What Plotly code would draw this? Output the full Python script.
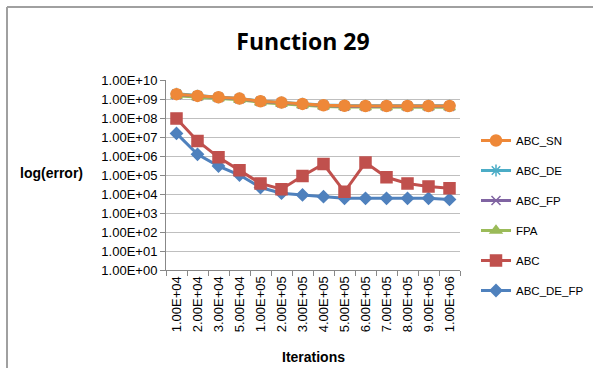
import plotly.graph_objects as go

iterations = ["1.00E+04", "2.00E+04", "3.00E+04", "5.00E+04", "1.00E+05", "2.00E+05", "3.00E+05",
              "4.00E+05", "5.00E+05", "6.00E+05", "7.00E+05", "8.00E+05", "9.00E+05", "1.00E+06"]

abc_sn = [1.8e9, 1.45e9, 1.23e9, 1.05e9, 7.6e8, 6.5e8, 5.5e8, 4.7e8, 4.4e8, 4.3e8, 4.3e8, 4.3e8, 4.3e8, 4.3e8]
abc_de = [1.9e9, 1.5e9, 1.25e9, 1.07e9, 7.8e8, 6.6e8, 5.6e8, 4.8e8, 4.5e8, 4.4e8, 4.4e8, 4.4e8, 4.4e8, 4.4e8]
abc_fp = [1.7e9, 1.4e9, 1.2e9, 1.02e9, 7.4e8, 6.3e8, 5.3e8, 4.5e8, 4.2e8, 4.1e8, 4.1e8, 4.1e8, 4.1e8, 4.1e8]
fpa = [1.5e9, 1.25e9, 1.08e9, 9.2e8, 6.6e8, 5.6e8, 4.7e8, 4.0e8, 3.8e8, 3.7e8, 3.7e8, 3.7e8, 3.7e8, 3.7e8]
abc = [9.5e7, 6.2e6, 8.5e5, 1.8e5, 3.6e4, 1.8e4, 8.9e4, 3.8e5, 1.3e4, 4.5e5, 7.6e4, 3.6e4, 2.5e4, 2.0e4]
abc_de_fp = [1.55e7, 1.23e6, 2.95e5, 1.0e5, 2.2e4, 1.1e4, 8.9e3, 7.2e3, 5.9e3, 5.9e3, 5.9e3, 5.9e3, 5.9e3, 5.2e3]

series = [
    ("ABC_DE_FP", abc_de_fp, "#4F81BD", "diamond", 9, 6),
    ("ABC", abc, "#C0504D", "square", 11, 5),
    ("FPA", fpa, "#9BBB59", "triangle-up", 10, 4),
    ("ABC_FP", abc_fp, "#8064A2", "x-thin-open", 9, 3),
    ("ABC_DE", abc_de, "#4BACC6", "asterisk-open", 10, 2),
    ("ABC_SN", abc_sn, "#EE8838", "circle", 11, 1),
]

fig = go.Figure()
for name, vals, color, sym, size, rank in series:
    fig.add_trace(go.Scatter(
        x=iterations, y=vals, name=name, mode="lines+markers",
        line=dict(color=color, width=3),
        marker=dict(symbol=sym, size=size, color=color, line=dict(color=color, width=1.5)),
        legendrank=rank, legendgroup=name,
    ))

ytickvals = [10 ** k for k in range(0, 11)]
yticktext = ["1.00E+%02d" % k for k in range(0, 11)]

fig.update_layout(
    width=593, height=368,
    margin=dict(l=166, r=133, t=80, b=98, autoexpand=False),
    paper_bgcolor="white", plot_bgcolor="white",
    font=dict(family="Liberation Sans, Arial, sans-serif", size=13, color="black"),
    title=dict(text="<b>Function 29</b>", x=0.511, xanchor="center", y=0.885, yanchor="middle",
               font=dict(size=23, family="Open Sans, Liberation Sans, sans-serif", color="black")),
    showlegend=True,
    legend=dict(xref="container", yref="container", x=476 / 593, y=1 - 126 / 368,
                xanchor="left", yanchor="top", traceorder="grouped",
                tracegroupgap=11, font=dict(size=11.5), itemwidth=30, bgcolor="rgba(0,0,0,0)"),
    xaxis=dict(type="category", range=[-0.5, len(iterations) - 0.5], tickangle=-90, ticks="outside",
               tickson="boundaries", ticklen=5,
               tickcolor="#888", showline=True, linecolor="#888", showgrid=False,
               tickfont=dict(size=13), automargin=False),
    yaxis=dict(type="log", range=[0, 10], tickvals=ytickvals, ticktext=yticktext,
               ticks="outside", ticklen=5, tickcolor="#888", showline=True, linecolor="#888",
               showgrid=True, gridcolor="#BFBFBF", gridwidth=1, tickfont=dict(size=13),
               zeroline=False, automargin=False),
    shapes=[
        dict(type="line", xref="paper", yref="paper", x0=(7 - 166) / 294, x1=(600 - 166) / 294,
             y0=1 + 73 / 190, y1=1 + 73 / 190, line=dict(color="#A0A0A0", width=2)),
        dict(type="line", xref="paper", yref="paper", x0=(7 - 166) / 294, x1=(7 - 166) / 294,
             y0=1 + 73 / 190, y1=-110 / 190, line=dict(color="#A0A0A0", width=2)),
    ],
    annotations=[
        dict(text="<b>log(error)</b>", xref="paper", yref="paper", x=(51 - 166) / 294, y=(270 - 173) / 190,
             xanchor="center", yanchor="middle", showarrow=False, font=dict(size=14)),
        dict(text="<b>Iterations</b>", xref="paper", yref="paper", x=(313 - 166) / 294, y=(270 - 357) / 190,
             xanchor="center", yanchor="middle", showarrow=False, font=dict(size=14)),
    ],
)

fig.write_html("out.html")
